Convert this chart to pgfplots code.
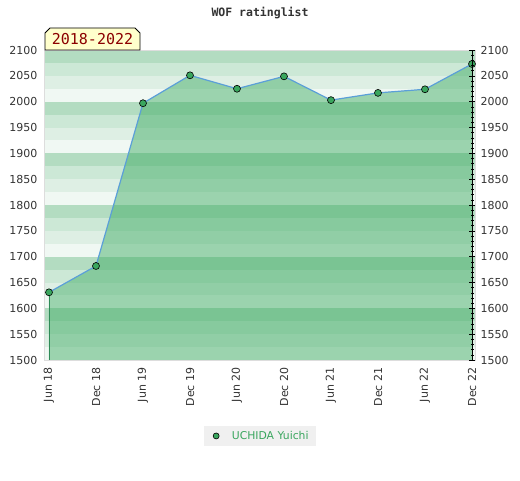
\documentclass[border=0pt]{standalone}
\usepackage{fontspec}
\setmainfont{DejaVu Sans}
\newfontfamily\monofont{DejaVu Sans Mono}
\usepackage{pgfplots}
\pgfplotsset{compat=1.18}
\definecolor{bandA}{HTML}{B3DCC1}
\definecolor{bandB}{HTML}{CCE8D6}
\definecolor{bandC}{HTML}{DEEFE4}
\definecolor{bandD}{HTML}{F0F8F3}
\definecolor{fillgreen}{RGB}{55,168,94}
\definecolor{lineblue}{HTML}{5B9FD8}
\definecolor{markgreen}{HTML}{3AA65E}
\definecolor{edgegreen}{HTML}{2E8B57}
\definecolor{ticklab}{HTML}{333333}
\definecolor{framegray}{HTML}{DDDDDD}
\definecolor{legendgray}{HTML}{F0F0F0}
\definecolor{labelyellow}{HTML}{FFFFCC}
\definecolor{labelred}{HTML}{8B0000}
\newcommand\tickfont{\fontsize{11}{13}\selectfont}
\begin{document}
\begin{tikzpicture}[x=1pt,y=1pt]
\useasboundingbox (0,0) rectangle (520,480);
\begin{axis}[
  at={(45pt,120pt)}, anchor=south west,
  width=430pt, height=310pt, scale only axis,
  xmin=-0.085, xmax=9.064, ymin=1500, ymax=2100,
  xtick={0,...,9},
  xticklabels={Jun 18,Dec 18,Jun 19,Dec 19,Jun 20,Dec 20,Jun 21,Dec 21,Jun 22,Dec 22},
  xticklabel style={rotate=90, anchor=east, font=\tickfont, text=ticklab, xshift=-4pt},
  ytick={1500,1550,...,2100},
  yticklabel style={font=\tickfont, text=ticklab, xshift=-4pt},
  major tick length=0pt,
  axis line style={draw=framegray, line width=1pt},
  axis on top,
  /pgf/number format/assume math mode=true,
  /pgf/number format/1000 sep={},
  legend image code/.code={\path (0pt,0pt) (20pt,0pt); \draw[#1] plot coordinates {(6.5pt,0pt)};},
  legend style={at={(axis description cs:0.5,-0.245)}, anchor=center,
    fill=legendgray, draw=none, font=\fontsize{10.8}{13}\selectfont, text=markgreen,
    inner xsep=5.5pt, inner ysep=3.5pt},
]
% background bands
\fill[bandA] (axis cs:-1,2075) rectangle (axis cs:10,2100);
\fill[bandB] (axis cs:-1,2050) rectangle (axis cs:10,2075);
\fill[bandC] (axis cs:-1,2025) rectangle (axis cs:10,2050);
\fill[bandD] (axis cs:-1,2000) rectangle (axis cs:10,2025);
\fill[bandA] (axis cs:-1,1975) rectangle (axis cs:10,2000);
\fill[bandB] (axis cs:-1,1950) rectangle (axis cs:10,1975);
\fill[bandC] (axis cs:-1,1925) rectangle (axis cs:10,1950);
\fill[bandD] (axis cs:-1,1900) rectangle (axis cs:10,1925);
\fill[bandA] (axis cs:-1,1875) rectangle (axis cs:10,1900);
\fill[bandB] (axis cs:-1,1850) rectangle (axis cs:10,1875);
\fill[bandC] (axis cs:-1,1825) rectangle (axis cs:10,1850);
\fill[bandD] (axis cs:-1,1800) rectangle (axis cs:10,1825);
\fill[bandA] (axis cs:-1,1775) rectangle (axis cs:10,1800);
\fill[bandB] (axis cs:-1,1750) rectangle (axis cs:10,1775);
\fill[bandC] (axis cs:-1,1725) rectangle (axis cs:10,1750);
\fill[bandD] (axis cs:-1,1700) rectangle (axis cs:10,1725);
\fill[bandA] (axis cs:-1,1675) rectangle (axis cs:10,1700);
\fill[bandB] (axis cs:-1,1650) rectangle (axis cs:10,1675);
\fill[bandC] (axis cs:-1,1625) rectangle (axis cs:10,1650);
\fill[bandD] (axis cs:-1,1600) rectangle (axis cs:10,1625);
\fill[bandA] (axis cs:-1,1575) rectangle (axis cs:10,1600);
\fill[bandB] (axis cs:-1,1550) rectangle (axis cs:10,1575);
\fill[bandC] (axis cs:-1,1525) rectangle (axis cs:10,1550);
\fill[bandD] (axis cs:-1,1500) rectangle (axis cs:10,1525);
% area
\addplot[fill=fillgreen, fill opacity=0.46, draw=none, forget plot] coordinates {
 (0,1631) (1,1682) (2,1997) (3,2051) (4,2025) (5,2049) (6,2003) (7,2017) (8,2024) (9,2073)
} \closedcycle;
\addplot[draw=edgegreen, line width=0.8pt, forget plot] coordinates {(0,1500) (0,1631)};
\addplot[draw=edgegreen, line width=0.8pt, forget plot] coordinates {(9,1500) (9,2073)};
\addplot[color=lineblue, line width=1.2pt, mark=*, mark size=3.5pt,
  mark options={fill=markgreen, draw=black, line width=0.6pt}, forget plot] coordinates {
 (0,1631) (1,1682) (2,1997) (3,2051) (4,2025) (5,2049) (6,2003) (7,2017) (8,2024) (9,2073)
};
\addlegendimage{only marks, mark=*, mark size=3pt, mark options={fill=markgreen, draw=black, line width=0.6pt}}
\addlegendentry{UCHIDA Yuichi}
\end{axis}
\begin{axis}[
  at={(45pt,120pt)}, anchor=south west,
  width=427pt, height=310pt, scale only axis,
  xmin=0, xmax=1, ymin=1500, ymax=2100,
  axis y line*=right, axis x line=none,
  ytick={1500,1550,...,2100}, minor y tick num=4,
  tick align=center, major tick length=6pt, minor tick length=3pt,
  every tick/.style={black, line width=0.6pt},
  axis line style={black, line width=0.6pt},
  yticklabel style={font=\tickfont, text=ticklab, xshift=2pt},
  /pgf/number format/assume math mode=true,
  /pgf/number format/1000 sep={},
]
\addplot[draw=none] coordinates {(0,1500)};
\end{axis}
\draw[fill=labelyellow, draw=black, line width=0.8pt] (45,430) -- (45,447) -- (50,452) -- (135,452) -- (140,447) -- (140,430) -- cycle;
\node[text=labelred, font=\monofont\fontsize{15}{17}\selectfont] at (92.5,440.5) {2018-2022};
\node[text=ticklab, font=\monofont\bfseries\fontsize{11.5}{13}\selectfont] at (260,467) {WOF ratinglist};
\end{tikzpicture}
\end{document}
